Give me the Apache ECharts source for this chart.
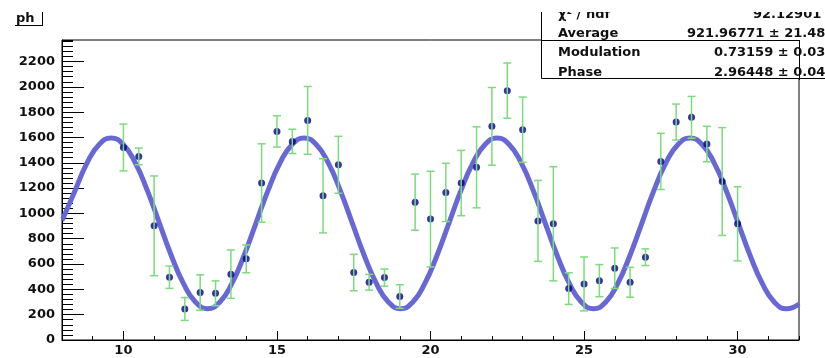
<!DOCTYPE html>
<html>
<head>
<meta charset="utf-8">
<script src="https://cdn.jsdelivr.net/npm/echarts@6/dist/echarts.min.js"></script>
<style>
html,body{margin:0;padding:0;background:#fff;}
#chart{width:825px;height:358px;}
</style>
</head>
<body>
<div id="chart"></div>
<script>
// Measured points (x, value, symmetric error)
const pointX = [10,10.5,11,11.5,12,12.5,13,13.5,14,14.5,15,15.5,16,16.5,17,17.5,18,18.5,19,19.5,20,20.5,21,21.5,22,22.5,23,23.5,24,24.5,25,25.5,26,26.5,27,27.5,28,28.5,29,29.5,30];
const pointY = [1521,1450,902,496,245,375,369,520,641,1240,1648,1569,1735,1139,1384,533,456,493,343,1089,955,1166,1240,1364,1688,1970,1661,941,918,406,443,469,567,456,654,1411,1722,1759,1548,1252,918];
const pointErr = [185,66,394,88,90,140,98,191,110,310,124,96,268,293,225,144,62,68,93,222,378,230,258,320,307,218,258,320,451,125,213,127,160,118,66,222,142,165,140,426,293];

// Fit curve values
const curveX = [8.0,8.031,8.424,8.817,9.209,9.602,9.995,10.387,10.780,11.173,11.565,11.958,12.351,12.744,13.136,13.529,13.922,14.314,14.707,15.100,15.493,15.885,16.278,16.671,17.063,17.456,17.849,18.241,18.634,19.027,19.420,19.812,20.205,20.598,20.990,21.383,21.776,22.168,22.561,22.954,23.347,23.739,24.132,24.525,24.917,25.310,25.703,26.095,26.488,26.881,27.273,27.666,28.059,28.452,28.844,29.237,29.630,30.022,30.415,30.808,31.200,31.593,32.0];
const curveY = [950,960,1180,1399,1545,1596,1545,1399,1180,922,664,445,299,247,299,445,664,922,1180,1399,1545,1596,1545,1399,1180,922,664,445,299,247,299,445,664,922,1180,1399,1545,1596,1545,1399,1180,922,664,445,299,247,299,445,664,922,1180,1399,1545,1596,1545,1399,1180,922,664,445,299,247,285];

// Axis tick labels
const xMajor = [10,15,20,25,30];
const yMajor = [0,200,400,600,800,1000,1200,1400,1600,1800,2000,2200];

// Stats box texts
const statLabels = ['χ² / ndf','Average','Modulation','Phase'];
const statValues = ['92.12901 / 38','921.96771 ± 21.48312','0.73159 ± 0.03192','2.96448 ± 0.04155'];
const titleText = 'ph';

const FONT = 'DejaVu Sans';
const chart = echarts.init(document.getElementById('chart'), null, {renderer:'canvas'});

const pts = pointX.map((x,i)=>[x, pointY[i], pointErr[i]]);
const curve = curveX.map((x,i)=>[x, curveY[i]]);

const errColor = '#7ddb7d';
function renderErr(params, api){
  const x = api.value(0), y = api.value(1), e = api.value(2);
  const t = api.coord([x, y + e]);
  const b = api.coord([x, y - e]);
  const hw = 4;
  const st = {stroke: errColor, lineWidth: 1.5};
  return {type:'group', children:[
    {type:'line', shape:{x1:t[0], y1:t[1], x2:b[0], y2:b[1]}, style:st},
    {type:'line', shape:{x1:t[0]-hw, y1:t[1], x2:t[0]+hw, y2:t[1]}, style:st},
    {type:'line', shape:{x1:b[0]-hw, y1:b[1], x2:b[0]+hw, y2:b[1]}, style:st}
  ]};
}

const labelStyle = {fontFamily: FONT, fontWeight: 'bold', fontSize: 13, color: '#111'};
const rowMid = [15, 33.5, 53, 72.5];
const valueX = [753, 687, 714, 714];
const txtFont = 'bold 13px "' + FONT + '"';

const graphics = [
  {type:'rect', z2:1, shape:{x:541.5, y:-5, width:300, height:83.5}, style:{fill:'#fff', stroke:'#000', lineWidth:1}},
];
statLabels.forEach((s,i)=>{
  graphics.push({type:'text', z2:2, x:558, y:rowMid[i], style:{text:s, font:txtFont, fill:'#111', verticalAlign:'middle', align:'left'}});
  graphics.push({type:'text', z2:2, x:valueX[i], y:rowMid[i], style:{text:statValues[i], font:txtFont, fill:'#111', verticalAlign:'middle', align:'left'}});
});
// frame lines pass over the stats box
graphics.push({type:'line', z2:3, shape:{x1:541, y1:40.5, x2:800, y2:40.5}, style:{stroke:'#000', lineWidth:1}});
graphics.push({type:'line', z2:3, shape:{x1:799.5, y1:40, x2:799.5, y2:80}, style:{stroke:'#000', lineWidth:1}});
// title box fragment
graphics.push({type:'text', z2:2, x:16, y:19, style:{text:titleText, font:txtFont, fill:'#111', verticalAlign:'middle', align:'left'}});
graphics.push({type:'line', z2:2, shape:{x1:15, y1:25.5, x2:43, y2:25.5}, style:{stroke:'#000', lineWidth:1}});
graphics.push({type:'line', z2:2, shape:{x1:42.5, y1:0, x2:42.5, y2:25.5}, style:{stroke:'#000', lineWidth:1}});
// top blank strip
graphics.push({type:'rect', z2:5, shape:{x:0, y:0, width:825, height:12}, style:{fill:'#fff'}});

const option = {
  backgroundColor: '#fff',
  animation: false,
  grid: {left:62, right:26, top:40, bottom:18, show:true, borderColor:'#000', borderWidth:1, backgroundColor:'transparent', containLabel:false},
  xAxis: [
    {type:'value', min:8, max:32, interval:1, position:'bottom',
     axisLine:{show:true, onZero:false, lineStyle:{color:'#000', width:1}},
     axisTick:{show:true, inside:true, length:4, lineStyle:{color:'#000'}},
     axisLabel:{show:false}, splitLine:{show:false}},
    {type:'value', min:8, max:32, interval:1, position:'bottom',
     axisLine:{show:false, onZero:false},
     axisTick:{show:true, inside:true, length:9, customValues:xMajor, lineStyle:{color:'#000'}},
     axisLabel:Object.assign({show:true, margin:4, customValues:xMajor, formatter:(v)=>String(v)}, labelStyle),
     splitLine:{show:false}}
  ],
  yAxis: [
    {type:'value', min:0, max:2370, interval:40, position:'left',
     axisLine:{show:true, onZero:false, lineStyle:{color:'#000', width:1}},
     axisTick:{show:true, inside:true, length:11, lineStyle:{color:'#000'}},
     axisLabel:{show:false}, splitLine:{show:false}},
    {type:'value', min:0, max:2370, interval:40, position:'left',
     axisLine:{show:false, onZero:false},
     axisTick:{show:true, inside:true, length:22, customValues:yMajor, lineStyle:{color:'#000'}},
     axisLabel:Object.assign({show:true, margin:7, customValues:yMajor, formatter:(v)=>String(v)}, labelStyle),
     splitLine:{show:false}}
  ],
  graphic: graphics,
  series: [
    {type:'line', xAxisIndex:0, yAxisIndex:0, data:curve, smooth:true, showSymbol:false, symbol:'none',
     lineStyle:{color:'#6767d6', width:5}, z:2},
    {type:'scatter', xAxisIndex:0, yAxisIndex:0, data:pts.map(p=>[p[0],p[1]]), symbol:'circle', symbolSize:7,
     itemStyle:{color:'#00008b'}, z:3},
    {type:'custom', xAxisIndex:0, yAxisIndex:0, data:pts, renderItem:renderErr, encode:{x:0, y:1}, z:4}
  ]
};
chart.setOption(option);
</script>
</body>
</html>
